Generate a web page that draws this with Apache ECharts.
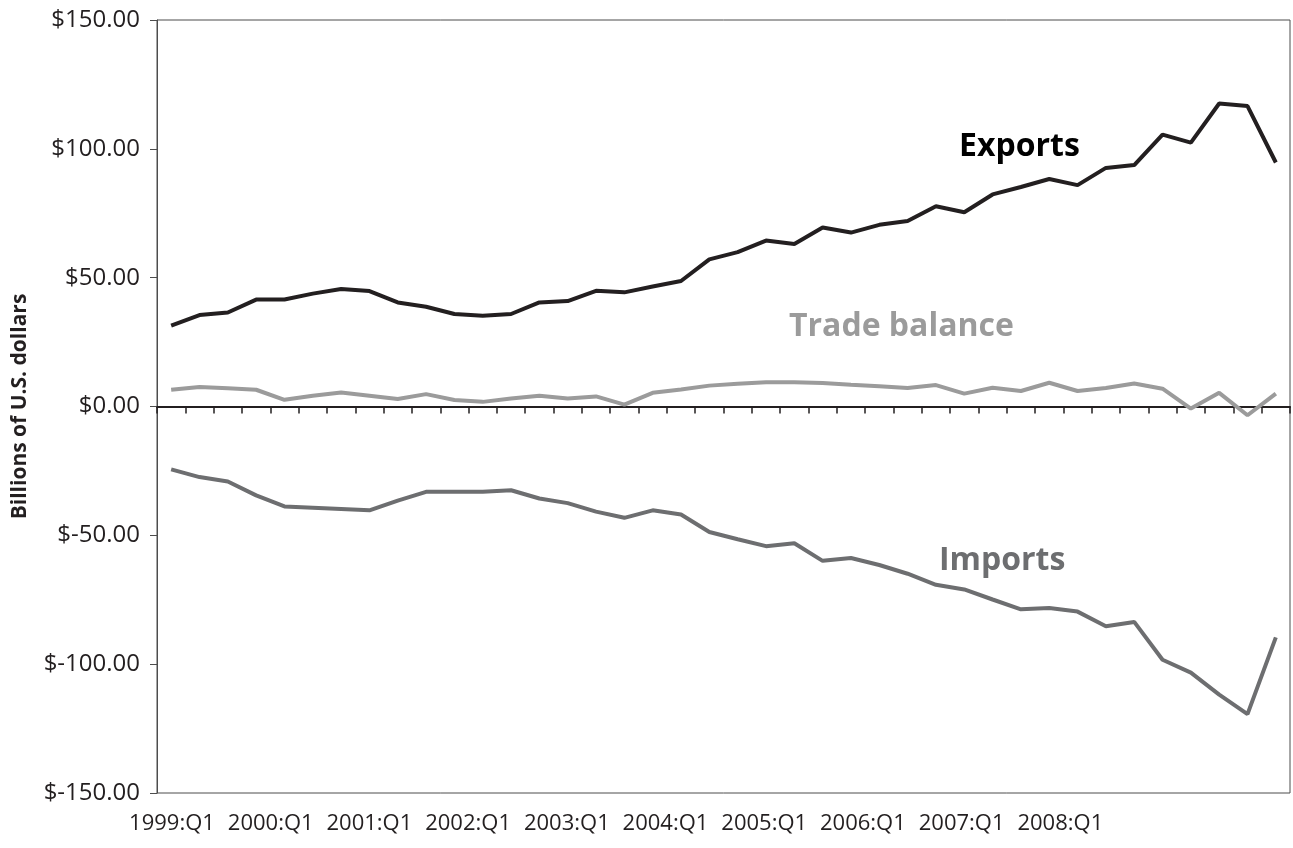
<html lang="en">
<head>
    <meta charset="UTF-8">
    <title>Trade</title>
    <script src="https://cdn.jsdelivr.net/npm/echarts@6/dist/echarts.min.js"></script>
    <style>
        html, body { margin: 0; padding: 0; background: #fff; }
        #chart { width: 1293px; height: 848px; }
    </style>
</head>
<body>
    <div id="chart"></div>
    <script>
        // quarters 1999:Q1 .. 2008:Q4
        var quarters = [];
        for (var y = 1999; y <= 2008; y++) {
            for (var q = 1; q <= 4; q++) quarters.push(y + ':Q' + q);
        }
        var yearLabels = ['1999:Q1', '2000:Q1', '2001:Q1', '2002:Q1', '2003:Q1',
            '2004:Q1', '2005:Q1', '2006:Q1', '2007:Q1', '2008:Q1'];

        var exportsData = [31.4, 35.5, 36.5, 41.5, 41.5, 43.8, 45.6, 44.8, 40.4, 38.7,
            35.9, 35.2, 35.9, 40.4, 40.9, 44.9, 44.3, 46.6, 48.7, 57.1,
            59.9, 64.4, 63.1, 69.5, 67.5, 70.5, 72.0, 77.7, 75.4, 82.3,
            85.2, 88.3, 85.9, 92.6, 93.7, 105.5, 102.4, 117.6, 116.6, 94.7];
        var balanceData = [6.5, 7.6, 7.1, 6.5, 2.6, 4.2, 5.4, 4.2, 2.9, 4.8,
            2.5, 1.8, 3.1, 4.2, 3.1, 3.9, 0.7, 5.3, 6.6, 8.1,
            8.8, 9.4, 9.4, 9.1, 8.4, 7.9, 7.2, 8.3, 5.0, 7.3,
            6.0, 9.2, 6.0, 7.2, 8.9, 6.9, -0.8, 5.3, -3.4, 5.0];
        var importsData = [-24.4, -27.4, -29.1, -34.5, -38.8, -39.3, -39.8, -40.3, -36.5, -33.1,
            -33.1, -33.1, -32.5, -35.7, -37.5, -40.8, -43.2, -40.3, -41.9, -48.7,
            -51.5, -54.2, -53.1, -59.9, -58.8, -61.5, -64.9, -69.2, -71.0, -74.9,
            -78.7, -78.2, -79.6, -85.3, -83.6, -98.3, -103.3, -111.8, -119.4, -89.6];

        var font = '"Open Sans", sans-serif';
        var axisColor = '#4d4d4d';

        var myChart = echarts.init(document.getElementById('chart'));
        var option = {
            animation: false,
            grid: {
                left: 157, right: 3, top: 20, bottom: 55,
                show: true, borderColor: axisColor, borderWidth: 1
            },
            xAxis: [{
                type: 'category',
                data: quarters,
                boundaryGap: true,
                axisLine: { onZero: true, lineStyle: { color: '#231f20', width: 2 } },
                axisTick: { show: true, interval: 0, inside: false, length: 7, lineStyle: { color: '#231f20', width: 1.5 } },
                axisLabel: { show: false }
            }, {
                // label axis: the year labels are spaced independently of the quarters
                type: 'value',
                position: 'bottom',
                min: -0.152,
                max: 11.327,
                axisLine: { show: false, onZero: false },
                axisTick: { show: false },
                splitLine: { show: false },
                axisLabel: {
                    customValues: [0, 1, 2, 3, 4, 5, 6, 7, 8, 9],
                    formatter: function (v) { return yearLabels[Math.round(v)]; },
                    fontFamily: font, fontSize: 22, color: '#231f20', margin: 20
                }
            }],
            yAxis: {
                type: 'value',
                min: -150, max: 150, interval: 50,
                name: 'Billions of U.S. dollars',
                nameLocation: 'middle',
                nameRotate: 90,
                nameGap: 126,
                nameTextStyle: { fontFamily: font, fontSize: 21, fontWeight: 'bold', color: '#231f20' },
                axisLine: { show: true, onZero: false, lineStyle: { color: axisColor } },
                axisTick: { show: true, length: 7, lineStyle: { color: axisColor } },
                splitLine: { show: false },
                axisLabel: {
                    fontFamily: font, fontSize: 24, color: '#231f20', margin: 17,
                    formatter: function (v) {
                        return v < 0 ? '$-' + Math.abs(v).toFixed(2) : '$' + v.toFixed(2);
                    }
                }
            },
            series: [{
                name: 'Exports', type: 'line', data: exportsData,
                symbol: 'none', lineStyle: { color: '#231f20', width: 4 }
            }, {
                name: 'Trade balance', type: 'line', data: balanceData,
                symbol: 'none', lineStyle: { color: '#9b9b9b', width: 4 }
            }, {
                name: 'Imports', type: 'line', data: importsData,
                symbol: 'none', lineStyle: { color: '#6d6e70', width: 4 }
            }],
            graphic: [{
                type: 'text', left: 959, top: 131,
                style: { text: 'Exports', font: 'bold 32px ' + font, fill: '#000' }
            }, {
                type: 'text', left: 789, top: 311,
                style: { text: 'Trade balance', font: 'bold 32px ' + font, fill: '#9b9b9b' }
            }, {
                type: 'text', left: 939, top: 545,
                style: { text: 'Imports', font: 'bold 32px ' + font, fill: '#6d6e70' }
            }]
        };
        myChart.setOption(option);
    </script>
</body>
</html>
